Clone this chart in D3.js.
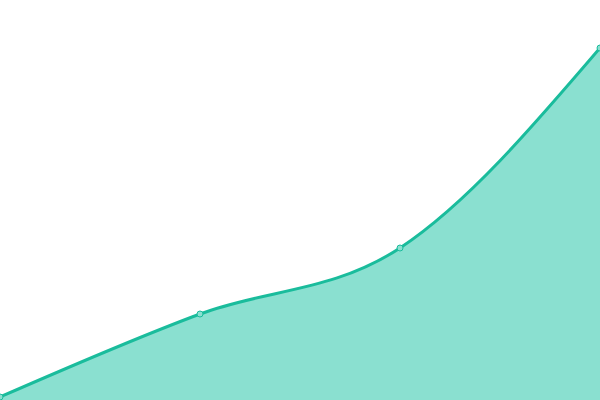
<!DOCTYPE html>
<html>
<head>
<meta charset="utf-8">
<script src="https://cdn.jsdelivr.net/npm/d3@7"></script>
<style>
  body { margin: 0; background: #fff; }
</style>
</head>
<body>
<div id="chart"></div>
<script>
var svgWidth = 600;
var svgHeight = 400;

// data
var categories = ["A", "B", "C", "D"];
var values = [0.75, 21.5, 38, 88];

var svg = d3.select("#chart")
    .append("svg")
    .attr("width", svgWidth)
    .attr("height", svgHeight);

var xScale = d3.scalePoint()
    .domain(categories)
    .range([0, svgWidth]);

var yScale = d3.scaleLinear()
    .domain([0, 100])
    .range([svgHeight, 0]);

var data = categories.map((c, i) => ({ cat: c, val: values[i] }));

var area = d3.area()
    .x(d => xScale(d.cat))
    .y0(yScale(0))
    .y1(d => yScale(d.val))
    .curve(d3.curveMonotoneX);

var line = d3.line()
    .x(d => xScale(d.cat))
    .y(d => yScale(d.val))
    .curve(d3.curveMonotoneX);

svg.append("path")
    .datum(data)
    .attr("d", area)
    .attr("fill", "#8ae0d0");

svg.append("path")
    .datum(data)
    .attr("d", line)
    .attr("fill", "none")
    .attr("stroke", "#1abc9c")
    .attr("stroke-width", 3);

svg.selectAll("circle.pt")
    .data(data)
    .enter()
    .append("circle")
    .classed("pt", true)
    .attr("cx", d => xScale(d.cat))
    .attr("cy", d => yScale(d.val))
    .attr("r", 3)
    .attr("fill", "#8ae0d0")
    .attr("stroke", "#1abc9c")
    .attr("stroke-width", 1);
</script>
</body>
</html>
